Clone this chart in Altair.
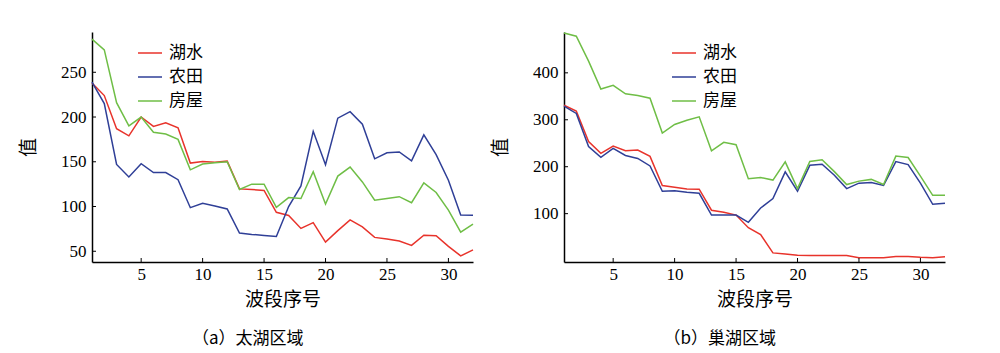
import altair as alt
import pandas as pd

bands = list(range(1, 33))
series_names = ["湖水", "农田", "房屋"]
series_colors = ["#e8332b", "#2f3f97", "#6fbe46"]

taihu_water = [238, 224, 187, 179, 200, 189.5, 193.5, 188, 148.5, 150.4, 149.6, 150.7, 119.7, 119, 118, 93.5,
               90, 75.5, 82, 60.3, 73, 85, 77.3, 65.5, 63.6, 61.4, 56.6, 68, 67.3, 55.5, 44.8, 51.5]
taihu_farm = [239, 215, 147, 133, 147.8, 138, 138, 130, 98.7, 103.5, 100.6, 97.2, 70.3, 68.8, 67.7, 66.5,
              100, 123, 184, 146.7, 198.7, 206, 192, 153.3, 160, 161, 151, 180, 158, 129.3, 90.6, 90.2]
taihu_house = [287, 275, 216, 190, 200, 183, 181, 175, 141, 147.4, 149, 150, 119, 125, 125, 99,
               110, 109, 139, 102.8, 134, 144, 127.5, 107, 109, 111, 104.2, 126.4, 115.7, 96, 71.4, 80.3]

chaohu_water = [331, 318.5, 253.6, 228.4, 244, 234, 235.6, 222, 160, 156.3, 152.7, 152, 107.3, 103, 97, 70,
                55.4, 16.4, 14.3, 11.4, 10.6, 10.6, 10.6, 10.6, 6.3, 6.3, 6.3, 8.5, 8.5, 7, 6.3, 8]
chaohu_farm = [329.3, 313.5, 243, 220, 239, 224, 217.6, 201.7, 147.7, 149, 145.5, 143.3, 97, 97, 97, 81.5,
               112, 132, 189, 147.7, 203, 205.3, 182, 153.4, 165, 166.5, 160, 211, 204.6, 165, 120, 122.4]
chaohu_house = [485, 478, 425, 365.4, 373.3, 355.3, 351.7, 346, 271.7, 290, 299, 306.3, 234, 252, 247, 174.3,
                177.2, 171.5, 210.4, 153.4, 211, 214.7, 189.5, 162, 169.3, 173, 162, 222.6, 219.7, 180, 139, 139]

x_ticks = [5, 10, 15, 20, 25, 30]
taihu_y_ticks = [50, 100, 150, 200, 250]
chaohu_y_ticks = [100, 200, 300, 400]

CJK = "Noto Sans CJK SC"
SERIF = "Liberation Serif"
W, H = 381, 230


def panel(water, farm, house, ydom, yticks, caption, legx, legy):
    rows = []
    for name, vals in zip(series_names, [water, farm, house]):
        for b, v in zip(bands, vals):
            rows.append({"band": b, "value": v, "type": name})
    df = pd.DataFrame(rows)
    xscale = alt.Scale(domain=[1, 32], nice=False, zero=False)
    yscale = alt.Scale(domain=ydom, nice=False, zero=False)
    xaxis = alt.Axis(values=x_ticks, title="波段序号", ticks=False, labelPadding=4, titlePadding=8,
                     labelFont=SERIF, labelFontSize=17, labelColor="black")
    yaxis = alt.Axis(values=yticks, title="值", ticks=False, labelPadding=6, titlePadding=22,
                     labelFont=SERIF, labelFontSize=17, labelColor="black")
    lines = alt.Chart(df).mark_line(strokeWidth=1.5).encode(
        x=alt.X("band:Q", scale=xscale, axis=xaxis),
        y=alt.Y("value:Q", scale=yscale, axis=yaxis),
        color=alt.Color("type:N", scale=alt.Scale(domain=series_names, range=series_colors),
                        sort=series_names,
                        legend=alt.Legend(orient="none", legendX=legx, legendY=legy, title=None,
                                          symbolType="stroke", symbolSize=576, symbolStrokeWidth=1.5,
                                          labelFont=CJK, labelFontSize=17, labelColor="black",
                                          labelOffset=6, rowPadding=3)),
    )
    xt = alt.Chart(pd.DataFrame({"band": x_ticks})).mark_rule(color="black", strokeWidth=1).encode(
        x=alt.X("band:Q", scale=xscale, axis=xaxis), y=alt.value(H), y2=alt.value(H - 4))
    yt = alt.Chart(pd.DataFrame({"value": yticks})).mark_rule(color="black", strokeWidth=1).encode(
        y=alt.Y("value:Q", scale=yscale, axis=yaxis), x=alt.value(0), x2=alt.value(4))
    return alt.layer(lines, xt, yt).properties(
        width=W, height=H,
        title=alt.TitleParams(caption, orient="bottom", anchor="middle", frame="bounds",
                              font=CJK, fontSize=17, fontWeight="normal", color="black", offset=22),
    )


left = panel(taihu_water, taihu_farm, taihu_house, [38, 295], taihu_y_ticks, "（a）太湖区域", 45, 8)
right = panel(chaohu_water, chaohu_farm, chaohu_house, [-3, 487], chaohu_y_ticks, "（b）巢湖区域", 107, 8)

chart = alt.hconcat(left, right, spacing=15).resolve_scale(
    x="independent", y="independent", color="independent"
).properties(
    padding={"left": 19, "top": 29, "right": 5, "bottom": 5},
    background="white",
).configure(font=SERIF).configure_view(stroke=None).configure_axis(
    domainColor="black", domainWidth=1.5, grid=False,
    labelFont=SERIF, labelFontSize=17, labelColor="black",
    titleFont=CJK, titleFontSize=19, titleFontWeight="normal", titleColor="black",
)

chart.save("out.html", embed_options={"renderer": "svg", "actions": False})
